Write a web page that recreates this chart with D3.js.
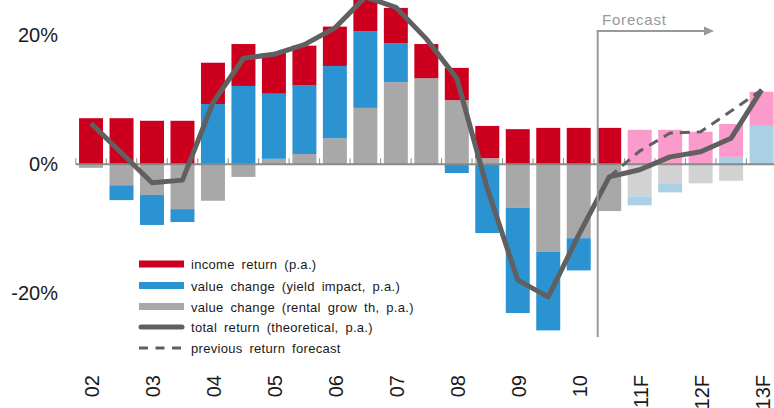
<!DOCTYPE html>
<html>
<head>
<meta charset="utf-8">
<script src="https://cdn.jsdelivr.net/npm/d3@7"></script>
<style>
  body { margin: 0; background: #fff; }
  svg { display: block; font-family: "Liberation Sans", Arial, sans-serif; }
  .ylab text { font-size: 20px; fill: #1a1a1a; }
  .xlab { font-size: 20px; fill: #1a1a1a; }
  .legend text { font-size: 13px; fill: #1a1a1a; word-spacing: 3px; letter-spacing: 0.3px; }
</style>
</head>
<body>
<svg width="774" height="408"></svg>
<script>
// ========== data (% p.a., half-yearly)

const periods = ['02 H1','02 H2','03 H1','03 H2','04 H1','04 H2','05 H1','05 H2','06 H1','06 H2',
  '07 H1','07 H2','08 H1','08 H2','09 H1','09 H2','10 H1','10 H2','11 H1','11 H2','12 H1','12 H2','13 H1'];
const tickLabels = ['02','','03','','04','','05','','06','','07','','08','','09','','10','','11F','','12F','','13F'];
const firstForecast = '11 H1';

const incomeReturn = [7.1, 7.1, 6.7, 6.7, 6.4, 6.5, 6.3, 6.1, 6.1, 5.5, 5.5, 5.3, 5.0, 5.0, 5.4, 5.6, 5.6, 5.6, 5.3, 5.3, 5.0, 5.1, 5.3];
const yieldImpact = [0, -2.3, -4.65, -2.0, 9.3, 12.1, 10.1, 10.7, 11.2, 11.9, 6.0, 0, -1.4, -10.7, -16.3, -12.2, -5.0, 0, -1.4, -1.4, 0, 1.1, 5.9];
const rentalGrowth = [-0.6, -3.3, -4.8, -7.0, -5.7, -2.0, 0.8, 1.55, 4.0, 8.7, 12.7, 13.3, 9.9, 0.9, -6.8, -13.6, -11.5, -7.3, -5.0, -3.0, -3.0, -2.6, 0];
const totalReturn = [6.3, 1.7, -2.9, -2.5, 9.5, 16.4, 17.0, 18.5, 21.1, 25.9, 24.3, 19.4, 13.3, -3.8, -18.0, -20.6, -11.0, -2.0, -0.9, 1.1, 1.9, 4.0, 11.5];
const previousForecast = [null, null, null, null, null, null, null, null, null, null, null, null, null, null, null, null, null,
  -2.0, 2.0, 4.8, 5.0, 8.2, 11.5];

const yTicks = [-20, 0, 20];

const legendItems = [
  { label: 'income return (p.a.)', type: 'bar', key: 'income' },
  { label: 'value change (yield impact, p.a.)', type: 'bar', key: 'yield' },
  { label: 'value change (rental grow th, p.a.)', type: 'bar', key: 'rental' },
  { label: 'total return (theoretical, p.a.)', type: 'line' },
  { label: 'previous return forecast', type: 'dash' }
];

// ========== colours

const colors = {
  income: '#CC001E', yield: '#2B93D1', rental: '#A8A8A8'
};
const colorsForecast = {
  income: '#FB9BCC', yield: '#ABD0E4', rental: '#D2D2D2'
};
const lineColor = '#606060';
const annoColor = '#999999';

// ========== scales

const svg = d3.select('svg');
const x = d3.scaleBand()
  .domain(periods)
  .range([75.8, 75.8 + 30.48 * periods.length])
  .paddingInner(0.213)
  .paddingOuter(0.1065);
const y = d3.scaleLinear().domain([-20, 20]).range([293, 35]);
const step = x.step();
const fcIndex = periods.indexOf(firstForecast);

const rows = periods.map((p, i) => ({
  period: p, i: i,
  rental: rentalGrowth[i], yield: yieldImpact[i], income: incomeReturn[i]
}));
const series = d3.stack()
  .keys(['rental', 'yield', 'income'])
  .offset(d3.stackOffsetDiverging)(rows);

// ========== bars

svg.append('g')
  .selectAll('g')
  .data(series)
  .enter().append('g')
  .each(function(s) {
    d3.select(this).selectAll('rect')
      .data(s)
      .enter().append('rect')
      .attr('x', d => x(d.data.period))
      .attr('width', x.bandwidth())
      .attr('y', d => y(Math.max(d[0], d[1])))
      .attr('height', d => Math.abs(y(d[0]) - y(d[1])))
      .attr('fill', d => d.data.i >= fcIndex ? colorsForecast[s.key] : colors[s.key]);
  });

// ========== axis

const axis = svg.append('g').attr('class', 'xaxis');
const axisY = y(0) + 0.3;
axis.append('line')
  .attr('x1', x(periods[0]) - step * 0.1065).attr('x2', 774)
  .attr('y1', axisY).attr('y2', axisY)
  .attr('stroke', '#8a8a8a').attr('stroke-width', 2);
axis.selectAll('.tick')
  .data(periods)
  .enter().append('line')
  .attr('x1', d => x(d) - step * 0.1065).attr('x2', d => x(d) - step * 0.1065)
  .attr('y1', axisY - 6).attr('y2', axisY)
  .attr('stroke', '#8a8a8a').attr('stroke-width', 1);

svg.append('g')
  .selectAll('text')
  .data(periods)
  .enter().append('text')
  .attr('class', 'xlab')
  .attr('text-anchor', 'end')
  .attr('transform', d => `translate(${x(d) + x.bandwidth() / 2 + 8},375) rotate(-90)`)
  .text((d, i) => tickLabels[i]);

const yAxis = svg.append('g')
  .attr('class', 'ylab')
  .attr('transform', 'translate(58,0)')
  .call(d3.axisLeft(y).tickValues(yTicks).tickSize(0).tickPadding(0).tickFormat(d => d + '%'));
yAxis.select('.domain').remove();
yAxis.selectAll('text').attr('font-family', null).attr('font-size', null).attr('fill', '#1a1a1a');

// ========== lines

const cx = (d, i) => x(periods[i]) + x.bandwidth() / 2;
svg.append('path')
  .datum(previousForecast)
  .attr('fill', 'none')
  .attr('stroke', lineColor)
  .attr('stroke-width', 3)
  .attr('stroke-dasharray', '10,7')
  .attr('d', d3.line().defined(d => d !== null).x(cx).y(d => y(d)));

svg.append('path')
  .datum(totalReturn)
  .attr('fill', 'none')
  .attr('stroke', lineColor)
  .attr('stroke-width', 5)
  .attr('stroke-linejoin', 'round')
  .attr('d', d3.line().x(cx).y(d => y(d)));

// ========== forecast marker

const fx = x(periods[fcIndex - 1]) + 0.5;
const anno = svg.append('g');
anno.append('line')
  .attr('x1', fx).attr('x2', fx).attr('y1', 31).attr('y2', 337)
  .attr('stroke', annoColor).attr('stroke-width', 2);
anno.append('line')
  .attr('x1', fx - 1).attr('x2', 706).attr('y1', 31).attr('y2', 31)
  .attr('stroke', annoColor).attr('stroke-width', 2);
anno.append('path')
  .attr('d', 'M704,26.5 L714,31 L704,35.5 Z')
  .attr('fill', annoColor);
anno.append('text')
  .attr('x', 602).attr('y', 25)
  .attr('font-size', 15).attr('letter-spacing', 0.8)
  .attr('fill', annoColor)
  .text('Forecast');

// ========== legend

const legendY = [264, 285.5, 306.5, 327, 348];
const legend = svg.append('g').attr('class', 'legend');
legendItems.forEach((it, i) => {
  const g = legend.append('g').attr('transform', `translate(0,${legendY[i]})`);
  if (it.type === 'bar') {
    g.append('rect').attr('x', 139).attr('y', -3.5).attr('width', 45).attr('height', 7)
      .attr('fill', colors[it.key]);
  } else if (it.type === 'line') {
    g.append('line').attr('x1', 141).attr('x2', 182).attr('y1', 0).attr('y2', 0)
      .attr('stroke', lineColor).attr('stroke-width', 5).attr('stroke-linecap', 'round');
  } else {
    g.append('line').attr('x1', 139).attr('x2', 184).attr('y1', 0).attr('y2', 0)
      .attr('stroke', lineColor).attr('stroke-width', 3).attr('stroke-dasharray', '9,7.5');
  }
  g.append('text').attr('x', 191).attr('y', 5).text(it.label);
});
</script>
</body>
</html>
